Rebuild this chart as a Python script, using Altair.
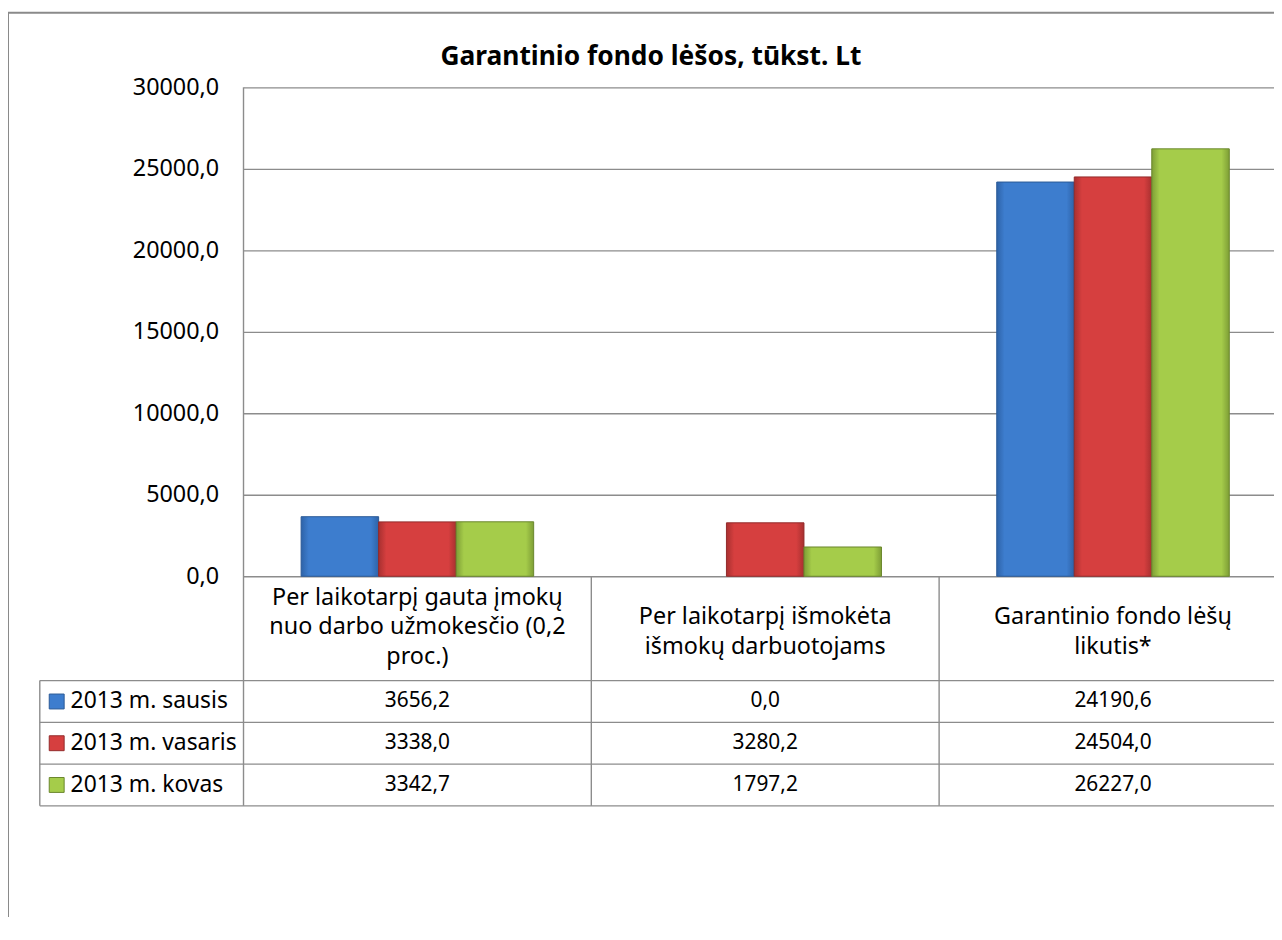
import altair as alt
import pandas as pd

# ---------------- data ----------------
title_text = "Garantinio fondo lėšos, tūkst. Lt"
categories = [
    "Per laikotarpį gauta įmokų nuo darbo užmokesčio (0,2 proc.)",
    "Per laikotarpį išmokėta išmokų darbuotojams",
    "Garantinio fondo lėšų likutis*",
]
category_lines = [
    "Per laikotarpį gauta įmokų\nnuo darbo užmokesčio (0,2\nproc.)",
    "Per laikotarpį išmokėta\nišmokų darbuotojams",
    "Garantinio fondo lėšų\nlikutis*",
]
series = ["2013 m. sausis", "2013 m. vasaris", "2013 m. kovas"]
values_sausis = [3656.2, 0.0, 24190.6]
values_vasaris = [3338.0, 3280.2, 24504.0]
values_kovas = [3342.7, 1797.2, 26227.0]
y_ticks = [0, 5000, 10000, 15000, 20000, 25000, 30000]

# ---------------- styles ----------------
FONT = "Noto Sans"
colors = ["#3D7DCE", "#D63F3F", "#A5CC4A"]
dark_colors = ["#2E63A8", "#A83030", "#7E9E36"]
edge_colors = ["#2A5A96", "#922A2A", "#6A862C"]
LINE = "#8C8C8C"
W, H = 1037, 492

rows = []
for s, vals in zip(series, [values_sausis, values_vasaris, values_kovas]):
    for c, v in zip(categories, vals):
        rows.append({"series": s, "category": c, "value": v,
                     "text": f"{v:.1f}".replace(".", ",")})
df = pd.DataFrame(rows)
cat_df = pd.DataFrame({"category": categories, "label": category_lines,
                       "nlines": [s.count("\n") + 1 for s in category_lines]})
ser_df = pd.DataFrame({"series": series})

x_scale = alt.Scale(domain=categories, paddingInner=0.3314, paddingOuter=0.1471, align=0.563)
xoff_scale = alt.Scale(domain=series, paddingInner=0, paddingOuter=0)
color_scale = alt.Scale(domain=series, range=colors)
stroke_scale = alt.Scale(domain=series, range=edge_colors)
row_scale = alt.Scale(domain=series, range=[618, 702], padding=0)
y_scale = alt.Scale(domain=[0, 30000])

y_axis = alt.Axis(values=y_ticks, title=None, grid=True, gridColor=LINE, gridWidth=1.4,
                  ticks=False, domain=False, labelFont=FONT, labelFontSize=23.5,
                  labelColor="#000000", labelPadding=25,
                  labelExpr="replace(format(datum.value, '.1f'), '.', ',')")

bar_layers = []
for i, s in enumerate(series):
    grad = alt.Gradient(
        gradient="linear", x1=0, x2=1, y1=0, y2=0,
        stops=[alt.GradientStop(offset=0, color=dark_colors[i]),
               alt.GradientStop(offset=0.1, color=colors[i]),
               alt.GradientStop(offset=0.9, color=colors[i]),
               alt.GradientStop(offset=1, color=dark_colors[i])])
    b = alt.Chart(df).transform_filter(
        f"datum.series == '{s}' && datum.value > 0"
    ).mark_bar(fill=grad, stroke=edge_colors[i], strokeWidth=1).encode(
        x=alt.X("category:N", scale=x_scale, axis=None, sort=categories),
        xOffset=alt.XOffset("series:N", scale=xoff_scale),
        y=alt.Y("value:Q", scale=y_scale, axis=y_axis if i == 0 else None),
    )
    bar_layers.append(b)

cells = alt.Chart(df).mark_text(font=FONT, fontSize=21, color="#000000", baseline="middle").encode(
    x=alt.X("category:N", scale=x_scale, axis=None, sort=categories),
    y=alt.Y("series:N", scale=row_scale, axis=None),
    text="text:N",
)

ser_labels = alt.Chart(ser_df).mark_text(font=FONT, fontSize=23, color="#000000",
                                         align="left", baseline="middle").encode(
    x=alt.value(-174),
    y=alt.Y("series:N", scale=row_scale, axis=None),
    text="series:N",
)

squares = alt.Chart(ser_df).mark_square(size=225, opacity=1, strokeWidth=1).encode(
    x=alt.value(-188),
    y=alt.Y("series:N", scale=row_scale, axis=None),
    color=alt.Color("series:N", scale=color_scale, legend=None),
    stroke=alt.Stroke("series:N", scale=stroke_scale, legend=None),
)

cat_labels = alt.Chart(cat_df).mark_text(font=FONT, fontSize=23.5, color="#000000",
                                         lineBreak="\n", lineHeight=30, baseline="middle").encode(
    x=alt.X("category:N", scale=x_scale, axis=None, sort=categories),
    y=alt.Y("nlines:Q", scale=alt.Scale(domain=[2, 3], range=[533.5, 513.5]), axis=None),
    text="label:N",
)

title = alt.Chart(alt.Data(values=[{"t": title_text}])).mark_text(
    font=FONT, fontSize=26.5, fontWeight="bold", color="#000000", baseline="middle").encode(
    x=alt.value(410), y=alt.value(-31), text="t:N")


def rule(x, y, x2=None, y2=None, w=1.4):
    enc = {"x": alt.value(x), "y": alt.value(y)}
    if x2 is not None:
        enc["x2"] = alt.value(x2)
    if y2 is not None:
        enc["y2"] = alt.value(y2)
    return alt.Chart(alt.Data(values=[{}])).mark_rule(color=LINE, strokeWidth=w).encode(**enc)


rules = [
    rule(-205, 597, W, 597),
    rule(-205, 639, W, 639),
    rule(-205, 681, W, 681),
    rule(-205, 723, W, 723),
    rule(-205, 597, -205, 723),
    rule(0, 0, 0, 723),
    rule(350, 492, 350, 723),
    rule(700, 492, 700, 723),
]

border = alt.Chart(alt.Data(values=[{}])).mark_rect(
    fillOpacity=0, stroke="#8A8A8A", strokeWidth=2).encode(
    x=alt.value(-237), x2=alt.value(W + 40), y=alt.value(-75), y2=alt.value(H + 500))

chart = alt.layer(border, *rules, *bar_layers, cells, ser_labels, squares, cat_labels, title).resolve_scale(
    y="independent"
).properties(
    width=W, height=H,
    padding={"left": 237, "top": 77, "right": 0, "bottom": 340},
    autosize=alt.AutoSizeParams(type="none"),
    background="white",
).configure_view(stroke=None)

chart.save("out.html", embed_options={"renderer": "svg", "actions": False})
